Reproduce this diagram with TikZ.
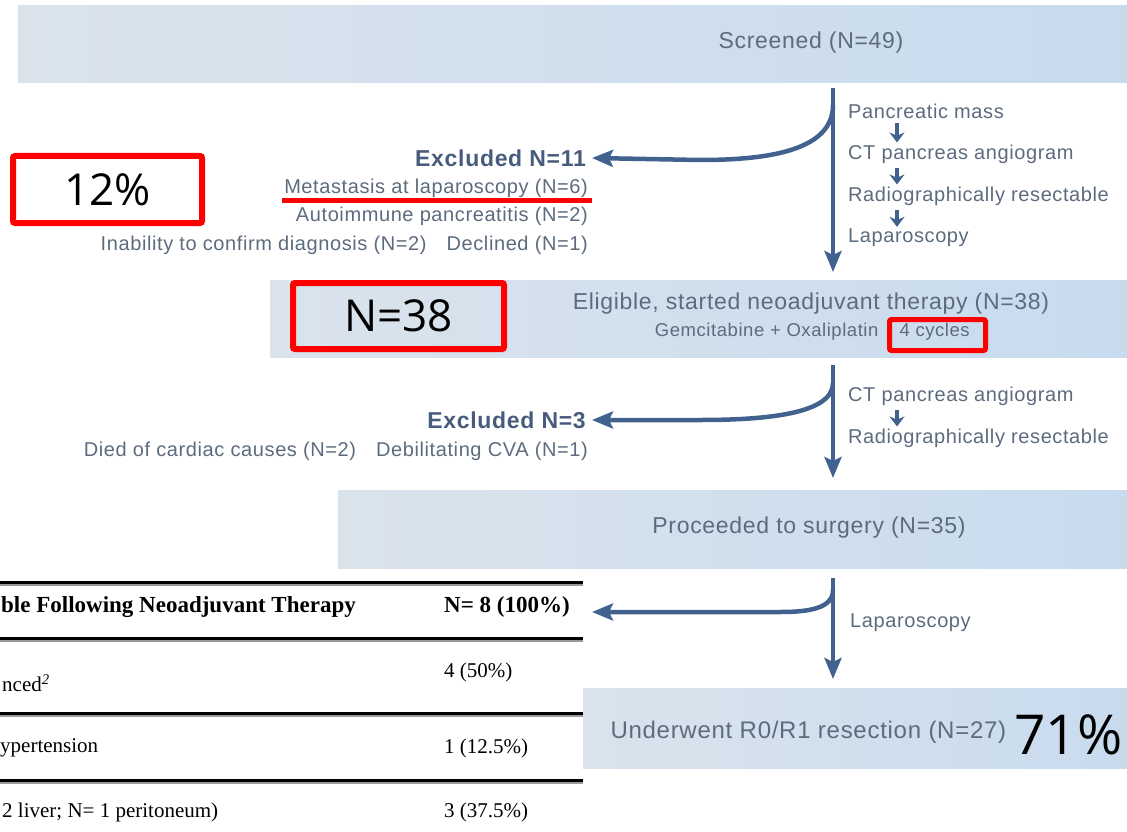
\documentclass[tikz,border=0pt]{standalone}
\usepackage{fontspec}
\setmainfont{Liberation Sans}[LetterSpace=3]
\newfontfamily\tabfont{Liberation Serif}
\newfontfamily\numfont{Open Sans}
\usetikzlibrary{arrows.meta,positioning,calc}
\definecolor{bandlight}{HTML}{DAE3EC}
\definecolor{bandblue}{HTML}{C8DBEE}
\definecolor{flowtext}{HTML}{5C6B7E}
\definecolor{exclblue}{HTML}{475C7D}
\definecolor{arrowblue}{HTML}{41618F}
\definecolor{markred}{HTML}{FF0000}
\definecolor{rulegray}{HTML}{9A9A9A}

\begin{document}
\begin{tikzpicture}[x=1pt, y=-1pt,
  font=\fontsize{20}{24}\selectfont, text=flowtext,
  band/.style={anchor=north west, inner sep=0pt, minimum height=77pt, left color=bandlight, right color=bandblue},
  title/.style={font=\fontsize{23}{27}\selectfont},
  excl/.style={font=\fontsize{23}{27}\selectfont\bfseries, text=exclblue, anchor=east, inner xsep=6pt},
  reason/.style={anchor=east, inner sep=0pt},
  stepnote/.style={anchor=west, inner sep=3pt},
  bigarrow/.style={draw=arrowblue, line width=4.5pt, -{Stealth[length=21pt, width=17pt, inset=4pt]}},
  smallarrow/.style={draw=arrowblue, line width=3.5pt, -{Stealth[length=10pt, width=15pt]}},
  redbox/.style={draw=markred, line width=6pt, rounded corners=2pt, inner sep=0pt},
  bignum/.style={font=\numfont\fontsize{44}{48}\selectfont, text=black},
  tabrule/.style={line width=3pt, black},
  tab/.style={font=\tabfont\fontsize{21}{25}\selectfont, text=black, anchor=west, inner sep=0pt},
  tabhead/.style={tab, font=\tabfont\bfseries\fontsize{23}{27}\selectfont},
]
\useasboundingbox (0,0) rectangle (1127,832);

% bands of the flow
\node[band, minimum width=1112pt] (screen) at (18,5) {};
\node[band, minimum width=860pt] (elig) at (270,280) {};
\node[band, minimum width=792pt, minimum height=78pt] (proc) at (338,490) {};
\node[band, minimum width=549pt, minimum height=80pt] (final) at (581,688) {};
\coordinate (trunk) at (833,0);

\node[title] (screentxt) at (811,43) {Screened (N=49)};
\node[title] (eligtxt) at (811,304) {Eligible, started neoadjuvant therapy (N=38)};
\node[anchor=east, font=\fontsize{18.5}{22}\selectfont] (regimen) at (882,332) {Gemcitabine + Oxaliplatin};
\node[anchor=west, font=\fontsize{18.5}{22}\selectfont] (cycles) at (896,332) {4 cycles};
\node[title] (proctxt) at (809,528) {Proceeded to surgery (N=35)};
\node[title, anchor=west, font=\fontsize{24}{28}\selectfont] (finaltxt) at (607,732) {Underwent R0/R1 resection (N=27)};

% first exclusion
\node[excl] (ex1) at (592,158) {Excluded N=11};
\node[reason] (meta) at (588,188) {Metastasis at laparoscopy (N=6)};
\node[reason] (autoimm) at (588,216) {Autoimmune pancreatitis (N=2)};
\node[reason] (inab) at (588,245) {Inability to confirm diagnosis (N=2)\quad Declined (N=1)};
\node[stepnote] (s1) at (845,111) {Pancreatic mass};
\node[stepnote] (s2) at (845,154) {CT pancreas angiogram};
\node[stepnote] (s3) at (845,196) {Radiographically resectable};
\node[stepnote] (s4) at (845,238) {Laparoscopy};
\coordinate (fork1) at (833,105);
\coordinate (bend1) at (700,160);

% second exclusion
\node[excl] (ex2) at (592,420) {Excluded N=3};
\node[reason] (cardiac) at (588,451) {Died of cardiac causes (N=2)\quad Debilitating CVA (N=1)};
\node[stepnote] (t1) at (845,396) {CT pancreas angiogram};
\node[stepnote] (t2) at (845,438) {Radiographically resectable};
\coordinate (fork2) at (833,383);
\coordinate (bend2) at (700,420);

% third exclusion
\node[stepnote] (u1) at (847,623) {Laparoscopy};
\coordinate (fork3) at (833,590);
\coordinate (bend3) at (780,612);
\coordinate (ex3) at (592,612);

% connectors
\draw[bigarrow, shorten <=6pt, shorten >=8pt] (screen.south -| trunk) -- (elig.north -| trunk);
\draw[bigarrow, shorten <=8pt, shorten >=12pt] (elig.south -| trunk) -- (proc.north -| trunk);
\draw[bigarrow, shorten <=10pt, shorten >=9pt] (proc.south -| trunk) -- (final.north -| trunk);
\draw[bigarrow] (fork1) .. controls +(0,45) and +(70,0) .. (bend1) -- (ex1.east);
\draw[bigarrow] (fork2) .. controls +(0,30) and +(70,0) .. (bend2) -- (ex2.east);
\draw[bigarrow] (fork3) .. controls +(0,18) and +(30,0) .. (bend3) -- (ex3);
\foreach \a/\b in {s1/s2, s2/s3, s3/s4, t1/t2}
  \draw[smallarrow] ($(\a.south west)+(52,1)$) -- ($(\b.north west)+(52,1)$);

% red marks
\draw[markred, line width=4.5pt] (meta.south west) ++(-2,3) coordinate (ul1) -- (ul1 -| ex1.east);
\node[redbox, fill=white, minimum width=189pt, minimum height=67pt] (pct12) at (107.5,189.5) {};
\node[bignum] at (pct12) {12\%};
\node[redbox, minimum width=211pt, minimum height=66pt] (n38) at (398.5,316) {};
\node[bignum] at (n38) {N=38};
\node[redbox, line width=5pt, minimum width=96pt, minimum height=31pt] (cyclebox) at (937.5,335) {};
\node[bignum, anchor=base west, inner sep=0pt, font=\numfont\fontsize{55}{60}\selectfont] (pct71) at (1014,754) {71\%};

% table overlay
\fill[white] (0,575) rectangle (583,832);
\foreach \ry in {582,638,713,780}{
  \draw[rulegray, line width=1.5pt] (0,\ry+3) -- (583,\ry+3);
  \draw[tabrule] (0,\ry) -- (583,\ry);
}
\node[tabhead] (h1) at (1,607) {ble Following Neoadjuvant Therapy};
\node[tabhead] (h2) at (444,607) {N= 8 (100\%)};
\node[tab] (r1a) at (2,683) {nced\textsuperscript{\itshape 2}};
\node[tab] (r1b) at (444,672) {4 (50\%)};
\node[tab] (r2a) at (0,748) {ypertension};
\node[tab] (r2b) at (444,748) {1 (12.5\%)};
\node[tab] (r3a) at (2,812) {2 liver; N= 1 peritoneum)};
\node[tab] (r3b) at (444,812) {3 (37.5\%)};
\end{tikzpicture}
\end{document}
